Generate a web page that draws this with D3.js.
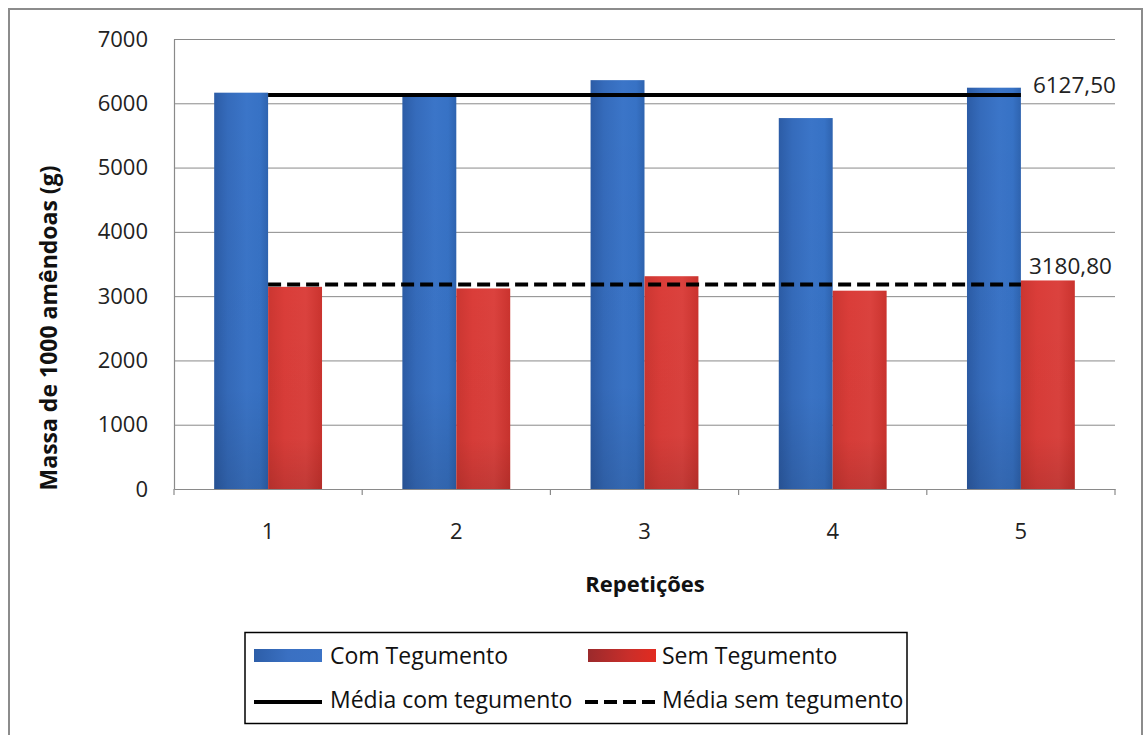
<!DOCTYPE html>
<html>
<head>
<meta charset="utf-8">
<script src="https://cdn.jsdelivr.net/npm/d3@7"></script>
<style>
  html, body { margin: 0; padding: 0; background: #fff; }
  svg { display: block; font-family: "Open Sans", "DejaVu Sans", sans-serif; }
</style>
</head>
<body>
<svg id="chart" width="1146" height="735"></svg>
<script>
// Repetições (categories)
const categories = ["1", "2", "3", "4", "5"];
// Massa de 1000 amêndoas (g)
const comTegumento = [6165, 6100, 6360, 5770, 6242.5];
const semTegumento = [3145, 3120, 3310, 3085, 3244];
// Means of each series
const mediaCom = 6127.50;
const mediaSem = 3180.80;
const meanLabels = ["6127,50", "3180,80"];
// Y axis ticks
const yTicks = [0, 1000, 2000, 3000, 4000, 5000, 6000, 7000];
const seriesNames = ["Com Tegumento", "Sem Tegumento"];
const lineNames = ["Média com tegumento", "Média sem tegumento"];

const svg = d3.select("#chart");
const plot = { left: 174, right: 1115, top: 39, bottom: 489 };

// gradients for the bars
const defs = svg.append("defs");
function hGrad(id, stops) {
  const g = defs.append("linearGradient").attr("id", id)
    .attr("x1", "0%").attr("x2", "100%").attr("y1", "0%").attr("y2", "0%");
  stops.forEach(([o, c]) => g.append("stop").attr("offset", o).attr("stop-color", c));
}
hGrad("gBlue", [["0%", "#2c5ca6"], ["25%", "#356bbb"], ["60%", "#3b75c8"], ["85%", "#3772c5"], ["100%", "#2e63af"]]);
hGrad("gRed", [["0%", "#cb3631"], ["30%", "#da3d39"], ["70%", "#db423e"], ["100%", "#ca332e"]]);
hGrad("gBlueKey", [["0%", "#2d5ea8"], ["50%", "#3a70c2"], ["100%", "#3b73c6"]]);
hGrad("gRedKey", [["0%", "#9b2a2c"], ["60%", "#c92e2a"], ["100%", "#e22b20"]]);
const shade = defs.append("linearGradient").attr("id", "gShade")
  .attr("x1", "0").attr("x2", "0").attr("y1", "0").attr("y2", "1");
shade.append("stop").attr("offset", "0%").attr("stop-color", "#000").attr("stop-opacity", 0);
shade.append("stop").attr("offset", "75%").attr("stop-color", "#000").attr("stop-opacity", 0.02);
shade.append("stop").attr("offset", "100%").attr("stop-color", "#000").attr("stop-opacity", 0.12);

// outer chart frame
svg.append("rect").attr("x", 9).attr("y", 9).attr("width", 1133).attr("height", 760)
  .attr("fill", "#fff").attr("stroke", "#8c8c8c").attr("stroke-width", 2);

const y = d3.scaleLinear().domain([0, 7000]).range([plot.bottom, plot.top]);
const x0 = d3.scaleBand().domain(categories).range([plot.left, plot.right]).padding(0);
const x1 = d3.scaleBand().domain(seriesNames).range([0, x0.bandwidth()])
  .paddingInner(0).paddingOuter(0.745);

// gridlines
svg.append("g").selectAll("line").data(yTicks.filter(t => t > 0)).join("line")
  .attr("x1", plot.left).attr("x2", plot.right)
  .attr("y1", d => y(d) + 0.5).attr("y2", d => y(d) + 0.5)
  .attr("stroke", "#8a8a8a").attr("stroke-width", 1);

// y axis
const yAxis = svg.append("g").attr("transform", `translate(${plot.left},0)`)
  .call(d3.axisLeft(y).tickValues(yTicks).tickSize(0).tickPadding(26).tickFormat(d3.format("d")));
yAxis.select(".domain").attr("stroke", "#8a8a8a").attr("stroke-width", 1.2);
yAxis.selectAll("text").attr("font-size", 22).attr("fill", "#222")
  .attr("font-family", "'Open Sans', sans-serif");

// bars
const series = [
  { name: seriesNames[0], values: comTegumento, fill: "url(#gBlue)" },
  { name: seriesNames[1], values: semTegumento, fill: "url(#gRed)" }
];
const barG = svg.append("g");
series.forEach(s => {
  const rows = categories.map((c, i) => ({ c, v: s.values[i] }));
  barG.append("g").selectAll("rect").data(rows).join("rect")
    .attr("x", d => x0(d.c) + x1(s.name))
    .attr("y", d => y(d.v))
    .attr("width", x1.bandwidth())
    .attr("height", d => y(0) - y(d.v))
    .attr("fill", s.fill);
  barG.append("g").selectAll("rect").data(rows).join("rect")
    .attr("x", d => x0(d.c) + x1(s.name))
    .attr("y", d => y(d.v))
    .attr("width", x1.bandwidth())
    .attr("height", d => y(0) - y(d.v))
    .attr("fill", "url(#gShade)");
});

// x axis
const xAxis = svg.append("g").attr("transform", `translate(0,${plot.bottom})`)
  .call(d3.axisBottom(x0).tickSize(0).tickPadding(34));
xAxis.select(".domain").attr("stroke", "#8a8a8a").attr("stroke-width", 1.2);
xAxis.selectAll("text").attr("font-size", 22).attr("fill", "#222")
  .attr("font-family", "'Open Sans', sans-serif");
// tick marks between categories
const bounds = categories.map(c => x0(c)).concat([plot.right]);
svg.append("g").selectAll("line").data(bounds).join("line")
  .attr("x1", d => d).attr("x2", d => d)
  .attr("y1", plot.bottom).attr("y2", plot.bottom + 6)
  .attr("stroke", "#8a8a8a").attr("stroke-width", 1.2);

// mean lines across the category centres
const cx = c => x0(c) + x0.bandwidth() / 2;
const meanLine = d3.line().x(d => cx(d.c)).y(d => y(d.v));
const means = [
  { v: mediaCom, dash: null, label: meanLabels[0], dx: 12, dy: -2 },
  { v: mediaSem, dash: "13,6", label: meanLabels[1], dx: 8, dy: -11 }
];
means.forEach(m => {
  svg.append("path")
    .datum(categories.map(c => ({ c, v: m.v })))
    .attr("d", meanLine)
    .attr("fill", "none").attr("stroke", "#000").attr("stroke-width", 4)
    .attr("stroke-dasharray", m.dash);
  const last = categories[categories.length - 1];
  svg.append("text")
    .attr("x", cx(last) + m.dx).attr("y", y(m.v) + m.dy)
    .attr("font-size", 22.5).attr("fill", "#222")
    .text(m.label);
});

// axis titles
svg.append("text")
  .attr("transform", `translate(57,328) rotate(-90)`)
  .attr("text-anchor", "middle").attr("font-size", 23).attr("font-weight", "bold")
  .attr("fill", "#111").text("Massa de 1000 amêndoas (g)");
svg.append("text")
  .attr("x", 645).attr("y", 592)
  .attr("text-anchor", "middle").attr("font-size", 22).attr("font-weight", "bold")
  .attr("fill", "#111").text("Repetições");

// legend
const lg = svg.append("g");
lg.append("rect").attr("x", 245).attr("y", 632.5).attr("width", 662).attr("height", 91)
  .attr("fill", "#fff").attr("stroke", "#000").attr("stroke-width", 1.5);
const keyX = [254, 588];
const textX = [330, 662];
[ "url(#gBlueKey)", "url(#gRedKey)" ].forEach((f, i) => {
  lg.append("rect").attr("x", keyX[i]).attr("y", 649).attr("width", 68).attr("height", 13).attr("fill", f);
  lg.append("text").attr("x", textX[i]).attr("y", 664).attr("font-size", 23)
    .attr("fill", "#111").text(seriesNames[i]);
});
[null, "13,6"].forEach((dash, i) => {
  lg.append("line").attr("x1", keyX[i] - (i ? 3 : 0)).attr("x2", keyX[i] + 68 + (i ? 1 : 0))
    .attr("y1", 702).attr("y2", 702)
    .attr("stroke", "#000").attr("stroke-width", 4).attr("stroke-dasharray", dash);
  lg.append("text").attr("x", textX[i]).attr("y", 708).attr("font-size", 23)
    .attr("fill", "#111").text(lineNames[i]);
});
</script>
</body>
</html>
